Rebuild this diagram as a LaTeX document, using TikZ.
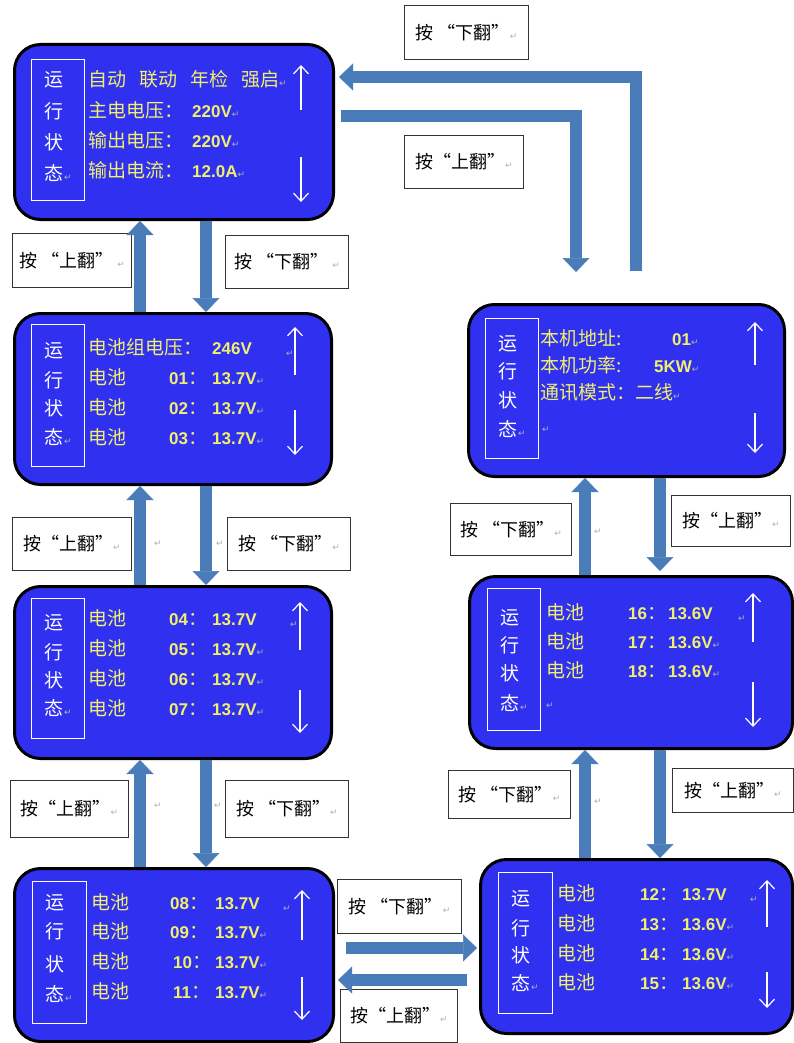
\documentclass[tikz,border=0pt]{standalone}
\usepackage{fontspec}
\setmainfont{Noto Sans CJK SC}
\newfontfamily\numf{Liberation Sans}
\newfontfamily\djv{DejaVu Sans}
\usetikzlibrary{arrows.meta}
\definecolor{scr}{RGB}{48,48,240}
\definecolor{yel}{RGB}{240,240,110}
\definecolor{fat}{RGB}{74,124,186}
\definecolor{pmk}{RGB}{175,175,190}
\newcommand\pmk{{\djv\fontsize{9}{9}\selectfont\textcolor{pmk}{↵}}}
\newcommand\nf{\numf\bfseries\fontsize{17}{17}\selectfont}
\newcommand\statcol[6]{%
  \node[vch] (#1v1) at (#2,#3+7) {运};
  \node[vch] (#1v2) at (#2,#4+7) {行};
  \node[vch] (#1v3) at (#2,#5+7) {状};
  \node[vch] (#1v4) at (#2,#6+7) {态};
  \node[cjk] (#1vp) at (#2+10,#6+7) {\pmk};}
\begin{document}
\begin{tikzpicture}[x=1pt,y=-1pt,
  screen/.style={draw=black, line width=3pt, fill=scr, rounded corners=26pt, anchor=north west, inner sep=0pt},
  side/.style={draw=white, line width=1pt, anchor=north west, inner sep=0pt},
  cjk/.style={anchor=base west, inner sep=0pt, text=yel, font=\fontsize{19}{19}\selectfont},
  vch/.style={anchor=base, inner sep=0pt, text=white, font=\fontsize{19}{19}\selectfont},
  updn/.style={draw=white, line width=1.2pt, -{Straight Barb[length=8pt,width=15pt]}},
  fatarrow/.style={draw=fat, line width=12pt, -{Triangle[length=14pt,width=27pt,line width=0.5pt]}},
  lab/.style={draw=black!80, line width=1pt, fill=white, anchor=north west, inner sep=0pt, font=\fontsize{18}{18}\selectfont},
  pm/.style={anchor=base west, inner sep=0pt}]
\useasboundingbox (0,0) rectangle (794,1043);
\fill[white] (0,0) rectangle (794,1043);

% ---------- screens ----------
\node[screen, minimum width=319pt, minimum height=175pt] (A) at (13,43) {};
\node[screen, minimum width=317pt, minimum height=171pt] (B) at (13,312) {};
\node[screen, minimum width=317pt, minimum height=172pt] (C) at (13,585) {};
\node[screen, minimum width=319pt, minimum height=173pt] (D) at (13,867) {};
\node[screen, minimum width=316pt, minimum height=172pt] (G) at (467,303) {};
\node[screen, minimum width=323pt, minimum height=172pt] (F) at (468,575) {};
\node[screen, minimum width=312pt, minimum height=174pt] (E) at (479,858) {};

% ---------- side boxes ----------
\node[side, minimum width=53pt, minimum height=141pt] (As) at (31,59) {};
\node[side, minimum width=53pt, minimum height=142pt] (Bs) at (31,324) {};
\node[side, minimum width=53pt, minimum height=140pt] (Cs) at (31,598) {};
\node[side, minimum width=54pt, minimum height=142pt] (Ds) at (32,881) {};
\node[side, minimum width=54pt, minimum height=141pt] (Es) at (498,872) {};
\node[side, minimum width=53pt, minimum height=142pt] (Fs) at (487,588) {};
\node[side, minimum width=53pt, minimum height=140pt] (Gs) at (485,318) {};

\statcol{A}{54}{80}{112}{143}{173}
\statcol{B}{54}{350}{380}{408}{437}
\statcol{C}{54}{622}{652}{680}{708}
\statcol{D}{55}{902}{931}{964}{994}
\statcol{E}{521}{898}{928}{955}{983}
\statcol{F}{510}{617}{645}{673}{703}
\statcol{G}{508}{343}{371}{400}{429}

% ---------- screen A ----------
\node[cjk] (A1) at (88,87) {自动\hspace{13pt}联动\hspace{13pt}年检\hspace{13pt}强启\pmk};
\node[cjk] (A2) at (88,118) {主电电压：};
\node[cjk] (A2v) at (192,118) {{\nf 220V}\pmk};
\node[cjk] (A3) at (88,148) {输出电压：};
\node[cjk] (A3v) at (192,148) {{\nf 220V}\pmk};
\node[cjk] (A4) at (88,178) {输出电流：};
\node[cjk] (A4v) at (192,178) {{\nf 12.0A}\pmk};
\draw[updn] (301,110) -- (301,65);
\draw[updn] (301,157) -- (301,202);

% ---------- screen B ----------
\node[cjk] (B1) at (88,354) {电池组电压：};
\node[cjk] (B1v) at (212,354) {{\nf 246V}};
\node[cjk] (B1p) at (286,356) {\pmk};
\node[cjk] (B2) at (88,384) {电池};
\node[cjk] (B2n) at (169,384) {{\nf 01}：};
\node[cjk] (B2v) at (212,384) {{\nf 13.7V}\pmk};
\node[cjk] (B3) at (88,414) {电池};
\node[cjk] (B3n) at (169,414) {{\nf 02}：};
\node[cjk] (B3v) at (212,414) {{\nf 13.7V}\pmk};
\node[cjk] (B4) at (88,444) {电池};
\node[cjk] (B4n) at (169,444) {{\nf 03}：};
\node[cjk] (B4v) at (212,444) {{\nf 13.7V}\pmk};
\draw[updn] (295,375) -- (295,327);
\draw[updn] (295,410) -- (295,455);

% ---------- screen C ----------
\node[cjk] (C1) at (88,625) {电池};
\node[cjk] (C1n) at (169,625) {{\nf 04}：};
\node[cjk] (C1v) at (212,625) {{\nf 13.7V}};
\node[cjk] (C1p) at (290,627) {\pmk};
\node[cjk] (C2) at (88,655) {电池};
\node[cjk] (C2n) at (169,655) {{\nf 05}：};
\node[cjk] (C2v) at (212,655) {{\nf 13.7V}\pmk};
\node[cjk] (C3) at (88,685) {电池};
\node[cjk] (C3n) at (169,685) {{\nf 06}：};
\node[cjk] (C3v) at (212,685) {{\nf 13.7V}\pmk};
\node[cjk] (C4) at (88,715) {电池};
\node[cjk] (C4n) at (169,715) {{\nf 07}：};
\node[cjk] (C4v) at (212,715) {{\nf 13.7V}\pmk};
\draw[updn] (300,650) -- (300,602);
\draw[updn] (300,690) -- (300,733);

% ---------- screen D ----------
\node[cjk] (D1) at (91,909) {电池};
\node[cjk] (D1n) at (170,909) {{\nf 08}：};
\node[cjk] (D1v) at (215,909) {{\nf 13.7V}};
\node[cjk] (D1p) at (283,911) {\pmk};
\node[cjk] (D2) at (91,938) {电池};
\node[cjk] (D2n) at (170,938) {{\nf 09}：};
\node[cjk] (D2v) at (215,938) {{\nf 13.7V}\pmk};
\node[cjk] (D3) at (91,968) {电池};
\node[cjk] (D3n) at (173,968) {{\nf 10}：};
\node[cjk] (D3v) at (215,968) {{\nf 13.7V}\pmk};
\node[cjk] (D4) at (91,998) {电池};
\node[cjk] (D4n) at (173,998) {{\nf 11}：};
\node[cjk] (D4v) at (215,998) {{\nf 13.7V}\pmk};
\draw[updn] (302,940) -- (302,890);
\draw[updn] (302,977) -- (302,1020);

% ---------- screen E ----------
\node[cjk] (E1) at (557,900) {电池};
\node[cjk] (E1n) at (640,900) {{\nf 12}：};
\node[cjk] (E1v) at (682,900) {{\nf 13.7V}};
\node[cjk] (E1p) at (750,902) {\pmk};
\node[cjk] (E2) at (557,930) {电池};
\node[cjk] (E2n) at (640,930) {{\nf 13}：};
\node[cjk] (E2v) at (682,930) {{\nf 13.6V}\pmk};
\node[cjk] (E3) at (557,960) {电池};
\node[cjk] (E3n) at (640,960) {{\nf 14}：};
\node[cjk] (E3v) at (682,960) {{\nf 13.6V}\pmk};
\node[cjk] (E4) at (557,989) {电池};
\node[cjk] (E4n) at (640,989) {{\nf 15}：};
\node[cjk] (E4v) at (682,989) {{\nf 13.6V}\pmk};
\draw[updn] (767,927) -- (767,880);
\draw[updn] (767,972) -- (767,1008);

% ---------- screen F ----------
\node[cjk] (F1) at (546,619) {电池};
\node[cjk] (F1n) at (628,619) {{\nf 16}：};
\node[cjk] (F1v) at (668,619) {{\nf 13.6V}};
\node[cjk] (F1p) at (738,621) {\pmk};
\node[cjk] (F2) at (546,648) {电池};
\node[cjk] (F2n) at (628,648) {{\nf 17}：};
\node[cjk] (F2v) at (668,648) {{\nf 13.6V}\pmk};
\node[cjk] (F3) at (546,677) {电池};
\node[cjk] (F3n) at (628,677) {{\nf 18}：};
\node[cjk] (F3v) at (668,677) {{\nf 13.6V}\pmk};
\node[cjk] (F4p) at (546,708) {\pmk};
\draw[updn] (753,642) -- (753,593);
\draw[updn] (753,682) -- (753,727);

% ---------- screen G ----------
\node[cjk] (G1) at (540,345) {本机地址:};
\node[cjk] (G1v) at (672,345) {{\nf 01}\pmk};
\node[cjk] (G2) at (540,372) {本机功率:};
\node[cjk] (G2v) at (654,372) {{\nf 5KW}\pmk};
\node[cjk] (G3) at (540,399) {通讯模式：二线\pmk};
\node[cjk] (G4p) at (542,432) {\pmk};
\draw[updn] (755,365) -- (755,322);
\draw[updn] (755,413) -- (755,453);

% ---------- labels ----------
\node[lab, minimum width=119pt, minimum height=54pt] (L1) at (12,233) {按 “上翻” \pmk};
\node[lab, minimum width=123pt, minimum height=53pt] (L2) at (225,235) {按 “下翻” \pmk};
\node[lab, minimum width=119pt, minimum height=53pt] (L3) at (12,517) {按“上翻”\pmk};
\node[lab, minimum width=123pt, minimum height=53pt] (L4) at (227,517) {按 “下翻”\pmk};
\node[lab, minimum width=118pt, minimum height=57pt] (L5) at (10,780) {按“上翻”\pmk};
\node[lab, minimum width=123pt, minimum height=57pt] (L6) at (225,780) {按 “下翻”\pmk};
\node[lab, minimum width=124pt, minimum height=54pt] (L7) at (404,5) {按 “下翻”\pmk};
\node[lab, minimum width=119pt, minimum height=53pt] (L8) at (404,135) {按“上翻”\pmk};
\node[lab, minimum width=121pt, minimum height=52pt] (L9) at (450,503) {按 “下翻”\pmk};
\node[lab, minimum width=119pt, minimum height=51pt] (L10) at (671,495) {按“上翻”\pmk};
\node[lab, minimum width=122pt, minimum height=48pt] (L11) at (448,770) {按 “下翻”\pmk};
\node[lab, minimum width=121pt, minimum height=44pt] (L12) at (672,768) {按“上翻”\pmk};
\node[lab, minimum width=124pt, minimum height=54pt] (L13) at (337,879) {按 “下翻”\pmk};
\node[lab, minimum width=117pt, minimum height=53pt] (L14) at (340,989) {按“上翻”\pmk};
\node[pm] (P3) at (154,546) {\pmk};
\node[pm] (P4) at (216,546) {\pmk};
\node[pm] (P5) at (154,808) {\pmk};
\node[pm] (P6) at (214,808) {\pmk};
\node[pm] (P9) at (594,534) {\pmk};
\node[pm] (P11) at (594,804) {\pmk};

% ---------- fat arrows ----------
\coordinate (xa) at (140,0);
\coordinate (xb) at (206,0);
\coordinate (xc) at (585,0);
\coordinate (xd) at (660,0);
\draw[fatarrow] (B.north -| xa) -- (A.south -| xa);
\draw[fatarrow] (A.south -| xb) -- (B.north -| xb);
\draw[fatarrow] (C.north -| xa) -- (B.south -| xa);
\draw[fatarrow] (B.south -| xb) -- (C.north -| xb);
\draw[fatarrow] (D.north -| xa) -- (C.south -| xa);
\draw[fatarrow] (C.south -| xb) -- (D.north -| xb);
\draw[fatarrow] (F.north -| xc) -- (G.south -| xc);
\draw[fatarrow, shorten >=4pt] (G.south -| xd) -- (F.north -| xd);
\draw[fatarrow] (E.north -| xc) -- (F.south -| xc);
\draw[fatarrow] (F.south -| xd) -- (E.north -| xd);

\coordinate (h1) at (0,948);
\coordinate (h2) at (0,980);
\draw[fatarrow, shorten <=11pt, shorten >=2pt] (D.east |- h1) -- (E.west |- h1);
\draw[fatarrow, shorten <=12pt, shorten >=3pt] (E.west |- h2) -- (D.east |- h2);

\coordinate (t1) at (576,116);
\coordinate (t2) at (576,272);
\coordinate (t3) at (636,271);
\coordinate (t4) at (636,77);
\draw[fatarrow, line join=miter] ([xshift=6pt]A.east |- t1) -- (t1) -- (t2);
\draw[fatarrow, line join=miter, shorten >=4pt] (t3) -- (t4) -- (A.east |- t4);
\end{tikzpicture}
\end{document}
